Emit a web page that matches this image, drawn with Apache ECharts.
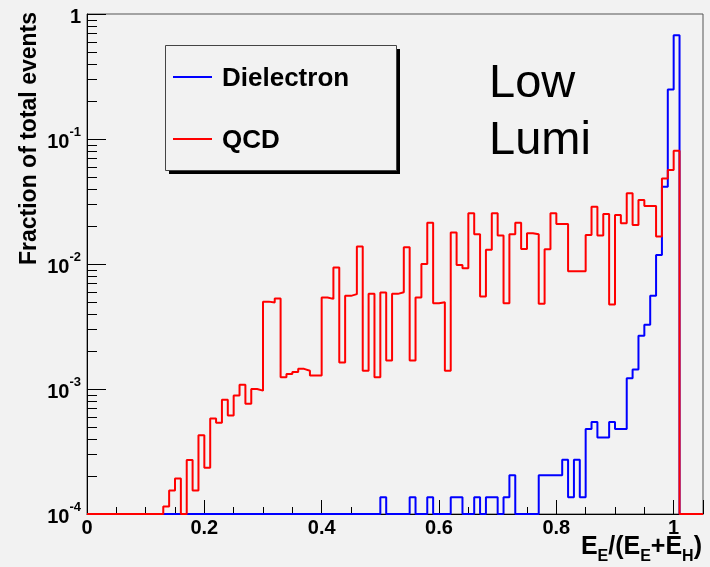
<!DOCTYPE html>
<html>
<head>
<meta charset="utf-8">
<script src="https://cdn.jsdelivr.net/npm/echarts@6/dist/echarts.min.js"></script>
<style>
html, body { margin: 0; padding: 0; background: #f2f2f2; }
#main { width: 710px; height: 567px; }
</style>
</head>
<body>
<div id="main"></div>
<script>
// histogram binning: 105 bins of 0.01 from 0 to 1.05
const binWidth = 0.01
const xMax = 1.05
const yMin = 1e-4
const yMax = 1

// fraction of total events per bin (0 = empty bin)
const dielectron = [
    0, 0, 0, 0, 0, 0, 0, 0, 0, 0,                                       // 0.00-0.09
    0, 0, 0, 0, 0, 0, 0, 0, 0, 0,                                       // 0.10-0.19
    0, 0, 0, 0, 0, 0, 0, 0, 0, 0,                                       // 0.20-0.29
    0, 0, 0, 0, 0, 0, 0, 0, 0, 0,                                       // 0.30-0.39
    0, 0, 0, 0, 0, 0, 0, 0, 0, 0,                                       // 0.40-0.49
    1.36e-4, 0, 0, 0, 0, 1.36e-4, 0, 0, 1.36e-4, 0,                     // 0.50-0.59
    0, 0, 1.36e-4, 1.36e-4, 0, 0, 1.36e-4, 0, 1.36e-4, 1.36e-4,         // 0.60-0.69
    0, 1.36e-4, 2.04e-4, 0, 0, 0, 0, 2.04e-4, 2.04e-4, 2.04e-4,         // 0.70-0.79
    2.04e-4, 2.72e-4, 1.36e-4, 2.72e-4, 1.36e-4, 4.79e-4, 5.45e-4, 4.1e-4, 4.1e-4, 5.45e-4, // 0.80-0.89
    4.79e-4, 4.79e-4, 1.22e-3, 1.43e-3, 2.67e-3, 3.27e-3, 5.56e-3, 1.18e-2, 4.15e-2, 0.249, // 0.90-0.99
    0.676, 0, 0, 0, 0                                                   // 1.00-1.04
]
const qcd = [
    0, 0, 0, 0, 0, 0, 0, 0, 0, 0,                                       // 0.00-0.09
    0, 0, 0, 1.15e-4, 1.54e-4, 1.92e-4, 0, 2.71e-4, 1.54e-4, 4.26e-4,   // 0.10-0.19
    2.34e-4, 5.82e-4, 5.38e-4, 8.2e-4, 6.15e-4, 8.89e-4, 1.08e-3, 7.63e-4, 1.0e-3, 9.7e-4, // 0.20-0.29
    5.0e-3, 4.92e-3, 5.3e-3, 1.24e-3, 1.32e-3, 1.37e-3, 1.45e-3, 1.40e-3, 1.28e-3, 1.28e-3, // 0.30-0.39
    5.39e-3, 5.26e-3, 9.36e-3, 1.63e-3, 5.56e-3, 5.74e-3, 1.38e-2, 1.40e-3, 5.77e-3, 1.24e-3, // 0.40-0.49
    5.91e-3, 1.69e-3, 5.77e-3, 5.95e-3, 1.36e-2, 1.69e-3, 5.39e-3, 1.0e-2, 2.14e-2, 4.86e-3, // 0.50-0.59
    4.95e-3, 1.40e-3, 1.79e-2, 9.84e-3, 9.25e-3, 2.55e-2, 1.73e-2, 5.49e-3, 1.30e-2, 2.55e-2, // 0.60-0.69
    1.69e-2, 4.86e-3, 1.73e-2, 2.14e-2, 1.32e-2, 1.76e-2, 1.73e-2, 4.8e-3, 1.31e-2, 2.55e-2, // 0.70-0.79
    2.09e-2, 2.09e-2, 8.76e-3, 8.76e-3, 8.76e-3, 1.71e-2, 2.87e-2, 1.69e-2, 2.51e-2, 4.74e-3, // 0.80-0.89
    2.47e-2, 2.12e-2, 3.68e-2, 2.05e-2, 3.25e-2, 2.91e-2, 2.91e-2, 1.66e-2, 4.84e-2, 5.64e-2, // 0.90-0.99
    8.05e-2, 0, 0, 0, 0                                                 // 1.00-1.04
]

const xTickLabels = ['0', '0.2', '0.4', '0.6', '0.8', '1']
const minorMultipliers = [2, 3, 4, 5, 6, 7, 8, 9]
const legendNames = ['Dielectron', 'QCD']
const annotation = ['Low', 'Lumi']

const font = '"Liberation Sans", Arial, sans-serif'

// step histogram points, empty bins sit on the bottom of the log axis
function histData(vals) {
    let pts = []
    vals.forEach(function (v, i) {
        pts.push([Math.round(i * binWidth * 100) / 100, v > 0 ? v : yMin])
    })
    let last = vals[vals.length - 1]
    pts.push([xMax, last > 0 ? last : yMin])
    return pts
}

let chart = echarts.init(document.getElementById('main'))

let option = {
    animation: false,
    backgroundColor: '#f2f2f2',
    grid: {
        left: 87,
        right: 7,
        top: 14,
        bottom: 53,
        show: true,
        borderColor: '#555',
        borderWidth: 1,
        backgroundColor: 'transparent'
    },
    xAxis: {
        type: 'value',
        min: 0,
        max: xMax,
        interval: 0.2,
        axisLine: { lineStyle: { color: '#000', width: 1 } },
        axisTick: { inside: true, length: 14, lineStyle: { color: '#000' } },
        minorTick: { show: true, splitNumber: 4, length: 7, lineStyle: { color: '#000' } },
        splitLine: { show: false },
        axisLabel: {
            margin: 4,
            showMaxLabel: false,
            color: '#000',
            fontFamily: font,
            fontWeight: 'bold',
            fontSize: 20,
            formatter: function (v) {
                let i = Math.round(v / 0.2)
                if (Math.abs(v - i * 0.2) > 1e-6) return ''
                return xTickLabels[i] || ''
            }
        }
    },
    yAxis: {
        type: 'log',
        logBase: 10,
        min: yMin,
        max: yMax,
        splitNumber: 4,
        axisLine: { lineStyle: { color: '#000', width: 1 } },
        axisTick: { inside: true, length: 19, lineStyle: { color: '#000' } },
        splitLine: { show: false },
        axisLabel: {
            margin: 6,
            color: '#000',
            formatter: function (v) {
                let e = Math.round(Math.log10(v))
                if (e === 0) return '{b|1}'
                return '{b|10}{sup|' + e + '}'
            },
            rich: {
                b: { fontFamily: font, fontWeight: 'bold', fontSize: 20, verticalAlign: 'bottom', lineHeight: 26 },
                sup: { fontFamily: font, fontWeight: 'bold', fontSize: 13, verticalAlign: 'top', lineHeight: 26 }
            }
        }
    },
    series: [
        {
            name: legendNames[0],
            type: 'line',
            step: 'end',
            symbol: 'none',
            data: histData(dielectron),
            lineStyle: { color: '#0000ff', width: 2 },
            itemStyle: { color: '#0000ff' }
        },
        {
            name: legendNames[1],
            type: 'line',
            step: 'end',
            symbol: 'none',
            data: histData(qcd),
            lineStyle: { color: '#ff0000', width: 2 },
            itemStyle: { color: '#ff0000' }
        }
    ]
}

chart.setOption(option)

// log minor ticks (2..9 per decade) and text / legend box
let graphics = []
for (let d = yMin; d < yMax; d *= 10) {
    for (const m of minorMultipliers) {
        let y = chart.convertToPixel({ yAxisIndex: 0 }, d * m)
        y = Math.round(y) + 0.5
        graphics.push({
            type: 'line',
            shape: { x1: 87, y1: y, x2: 97, y2: y },
            style: { stroke: '#000', lineWidth: 1 },
            silent: true
        })
    }
}

graphics.push(
    {
        type: 'text',
        x: 30,
        y: 12,
        rotation: Math.PI / 2,
        style: {
            text: 'Fraction of total events',
            font: 'bold 23px ' + font,
            fill: '#000',
            align: 'right',
            verticalAlign: 'middle'
        }
    },
    {
        type: 'text',
        x: 702,
        y: 550,
        style: {
            text: '{b|E}{s|E}{b|/(E}{s|E}{b|+E}{s|H}{b|)}',
            fill: '#000',
            align: 'right',
            verticalAlign: 'middle',
            rich: {
                b: { font: 'bold 25px ' + font, verticalAlign: 'top', lineHeight: 30 },
                s: { font: 'bold 16px ' + font, verticalAlign: 'bottom', lineHeight: 30 }
            }
        }
    },
    // legend box with shadow
    { type: 'rect', shape: { x: 169, y: 49, width: 231, height: 125 }, style: { fill: '#000' } },
    { type: 'rect', shape: { x: 165.5, y: 45.5, width: 231, height: 125 }, style: { fill: '#f2f2f2', stroke: '#444', lineWidth: 1 } },
    { type: 'line', shape: { x1: 173, y1: 77, x2: 212, y2: 77 }, style: { stroke: '#0000ff', lineWidth: 2 } },
    { type: 'text', x: 222, y: 79, style: { text: legendNames[0], font: 'bold 26px ' + font, fill: '#000', verticalAlign: 'middle' } },
    { type: 'line', shape: { x1: 173, y1: 139, x2: 212, y2: 139 }, style: { stroke: '#ff0000', lineWidth: 2 } },
    { type: 'text', x: 222, y: 141, style: { text: legendNames[1], font: 'bold 26px ' + font, fill: '#000', verticalAlign: 'middle' } },
    { type: 'text', x: 489, y: 84, style: { text: annotation[0], font: '47px ' + font, fill: '#000', verticalAlign: 'middle' } },
    { type: 'text', x: 489, y: 141, style: { text: annotation[1], font: '47px ' + font, fill: '#000', verticalAlign: 'middle' } }
)

chart.setOption({ graphic: graphics })
</script>
</body>
</html>
